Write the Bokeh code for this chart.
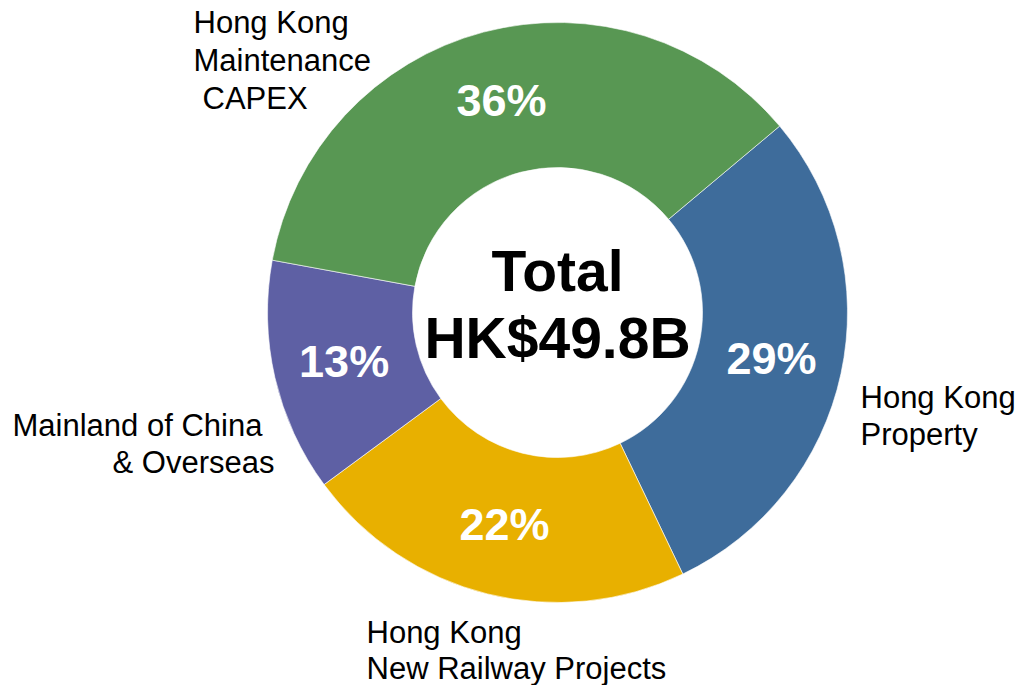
import math
from bokeh.plotting import figure
from bokeh.models import Range1d, ColumnDataSource
from bokeh.core.properties import value
from bokeh.embed import file_html
from bokeh.resources import INLINE

# ---- data ----
categories = ["Hong Kong Property", "Hong Kong New Railway Projects",
              "Mainland of China & Overseas", "Hong Kong Maintenance CAPEX"]
shares = [29, 22, 13, 36]
colors = ["#3e6c9b", "#e8b000", "#5e60a4", "#589753"]
center_title = ["Total", "HK$49.8B"]
label_lines = [
    ["Hong Kong", "Property"],
    ["Hong Kong", "New Railway Projects"],
    ["Mainland of China", "& Overseas"],
    ["Hong Kong", "Maintenance", "CAPEX"],
]

# ---- geometry (data units == pixels, y measured upward from page bottom) ----
W, H = 1018, 685
cx, cy = 557, H - 312
r_out, r_in = 290, 145
start_deg = 40.0

p = figure(width=W, height=H, output_backend="svg", toolbar_location=None,
           x_range=Range1d(0, W), y_range=Range1d(0, H),
           min_border=0, outline_line_color=None)
p.axis.visible = False
p.grid.visible = False
p.background_fill_color = "white"

total = sum(shares)
starts, ends, mids = [], [], []
acc = 0
for s in shares:
    a0 = start_deg - acc / total * 360
    a1 = a0 - s / total * 360
    starts.append(math.radians(a0))
    ends.append(math.radians(a1))
    mids.append(math.radians((a0 + a1) / 2))
    acc += s

src = ColumnDataSource(dict(start=starts, end=ends, color=colors, cat=categories))
p.annular_wedge(x=cx, y=cy, inner_radius=r_in, outer_radius=r_out,
                start_angle="start", end_angle="end", direction="clock",
                fill_color="color", line_color="white", line_width=0.6,
                source=src)

# percent labels
r_lab = 219
pct_x = [cx + r_lab * math.cos(m) for m in mids]
pct_y = [cy + r_lab * math.sin(m) for m in mids]
pct_t = [f"{s}%" for s in shares]
p.text(x=pct_x, y=pct_y, text=pct_t, text_color="white",
       text_font=value("Liberation Sans"), text_font_style="bold",
       text_font_size="45px", text_align="center", text_baseline="middle")

# center text
p.text(x=[cx, cx], y=[H - 270, H - 337], text=center_title, text_color="black",
       text_font=value("Liberation Sans"), text_font_style="bold",
       text_font_size="57px", text_align="center", text_baseline="middle")

# category labels (left-aligned lines, positions in pixels from top-left)
label_pos = [
    [(860, 397), (860, 434)],
    [(366, 632), (366, 668)],
    [(12, 425), (112, 462)],
    [(193, 22), (193, 60), (202, 98)],
]
lx, ly, lt = [], [], []
for lines, pos in zip(label_lines, label_pos):
    for t, (x, y) in zip(lines, pos):
        lx.append(x)
        ly.append(H - y)
        lt.append(t)
p.text(x=lx, y=ly, text=lt, text_color="black",
       text_font=value("Liberation Sans"), text_font_size="31px",
       text_align="left", text_baseline="middle")

open("out.html", "w").write(file_html(p, INLINE))
